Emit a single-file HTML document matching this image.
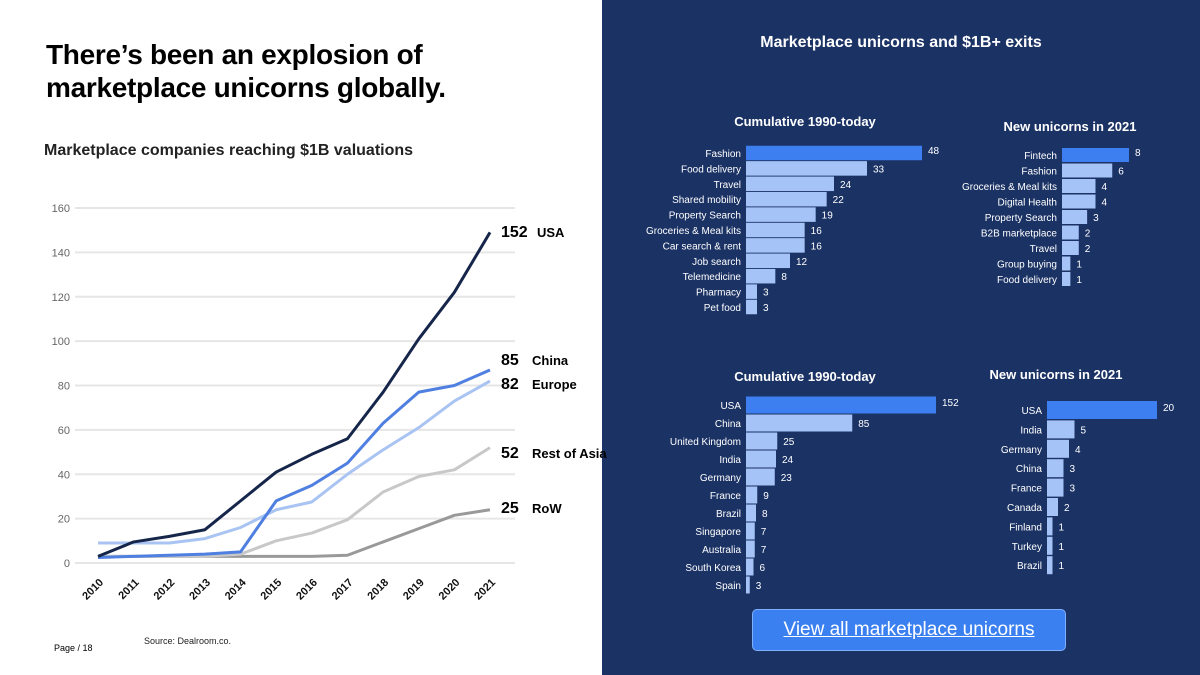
<!DOCTYPE html>
<html><head><meta charset="utf-8">
<style>
html,body{margin:0;padding:0;width:1200px;height:675px;overflow:hidden;background:#fff;font-family:"Liberation Sans",sans-serif;}
#left{position:absolute;left:0;top:0;width:602px;height:675px;background:#fff;}
#right{position:absolute;left:602px;top:0;width:598px;height:675px;background:#1b3264;}
.h1{position:absolute;left:46px;top:38px;font-size:28px;font-weight:bold;line-height:33px;color:#000;letter-spacing:-0.3px}
.sub{position:absolute;left:44px;top:142px;font-size:16px;font-weight:bold;color:#222;}
.page{position:absolute;left:54px;top:643px;font-size:9px;color:#000}
.src{position:absolute;left:144px;top:636px;font-size:9px;color:#222}
.rtitle{position:absolute;left:0;width:598px;top:34px;text-align:center;color:#fff;font-weight:bold;font-size:16px}
#btn{position:absolute;left:752px;top:609px;width:312px;height:40px;background:#3b80f0;border:1px solid #7fb0ff;border-radius:5px;color:#fff;font-size:19px;text-align:center;line-height:40px;text-decoration:underline;}
svg{position:absolute;left:0;top:0}
</style></head><body>
<div id="left">
<div class="h1">There’s been an explosion of<br>marketplace unicorns globally.</div>
<div class="sub">Marketplace companies reaching $1B valuations</div>
<div class="page">Page / 18</div>
<div class="src">Source: Dealroom.co.</div>
</div>
<div id="right">
<div class="rtitle">Marketplace unicorns and $1B+ exits</div>
</div>
<div id="btn">View all marketplace unicorns</div>
<svg id="chart" width="1200" height="675" xmlns="http://www.w3.org/2000/svg"></svg>
<script>
const years=["2010","2011","2012","2013","2014","2015","2016","2017","2018","2019","2020","2021"];
const yTicks=[0,20,40,60,80,100,120,140,160];
const usa=[3,9.5,12,15,28,41,49,56,77,101,122,149];
const china=[2.5,3,3.5,4,5,28,35,45,63,77,80,87];
const europe=[9,9,9,11,16,24,27.5,40,51,61,73,82];
const restAsia=[3,3,3,3,4,10,13.5,19.5,32,39,42,52];
const row=[3,3,3,3,3,3,3,3.5,9.5,15.5,21.5,24];
const seriesNames=["RoW","Rest of Asia","Europe","China","USA"];
const endValues=["25","52","82","85","152"];
const catCum=["Fashion","Food delivery","Travel","Shared mobility","Property Search","Groceries & Meal kits","Car search & rent","Job search","Telemedicine","Pharmacy","Pet food"];
const valCum=[48,33,24,22,19,16,16,12,8,3,3];
const catNew=["Fintech","Fashion","Groceries & Meal kits","Digital Health","Property Search","B2B marketplace","Travel","Group buying","Food delivery"];
const valNew=[8,6,4,4,3,2,2,1,1];
const ctyCum=["USA","China","United Kingdom","India","Germany","France","Brazil","Singapore","Australia","South Korea","Spain"];
const ctyCumVal=[152,85,25,24,23,9,8,7,7,6,3];
const ctyNew=["USA","India","Germany","China","France","Canada","Finland","Turkey","Brazil"];
const ctyNewVal=[20,5,4,3,3,2,1,1,1];

const svg=document.getElementById('chart');
const NS="http://www.w3.org/2000/svg";
function mk(t,a){const e=document.createElementNS(NS,t);for(const k in a)e.setAttribute(k,a[k]);svg.appendChild(e);return e;}
const xs=i=>98+i*(392/11);
const ys=v=>563-v*(355/160);
yTicks.forEach(t=>{
 const g=mk('line',{x1:75,x2:515,y1:ys(t),y2:ys(t),stroke:'#e6e6e6','stroke-width':2});
 
 
 const l=mk('text',{x:70,y:ys(t)+4,'text-anchor':'end','font-size':11,fill:'#666','font-family':'Liberation Sans'});
 l.textContent=t;
 
 
});
years.forEach((y,i)=>{
 const l=mk('text',{x:xs(i)+6,y:583,'text-anchor':'end','font-size':11,'font-weight':'bold',fill:'#111','font-family':'Liberation Sans',transform:`rotate(-45 ${xs(i)+6} 583)`});
 l.textContent=y;
 
 
});
const series=[row,restAsia,europe,china,usa];
const colors=['#999999','#c8c8c8','#a9c4f2','#4f7fe0','#16264a'];
const labY=[508,453,384,360,232];
series.forEach((s,si)=>{
 const p=mk('polyline',{points:s.map((v,i)=>xs(i)+','+ys(v)).join(' '),fill:'none',stroke:colors[si],'stroke-width':3,'stroke-linejoin':'round'});
 
 
 const v=mk('text',{x:501,y:labY[si]+5,'font-size':16,'font-weight':'bold',fill:'#000','font-family':'Liberation Sans'});
 v.textContent=endValues[si];
 
 
 const n=mk('text',{x:si==4?537:532,y:labY[si]+5,'font-size':13,'font-weight':'bold',fill:'#000','font-family':'Liberation Sans'});
 n.textContent=seriesNames[si];
 
 
});
function barChart(title,tx,ty,cats,vals,x0,scale,y0,pitch,bh,fs){
 const t=mk('text',{x:tx,y:ty,'text-anchor':'middle','font-size':13,'font-weight':'bold',fill:'#fff','font-family':'Liberation Sans'});
 t.textContent=title;
 
 
 cats.forEach((c,i)=>{
  const cy=y0+i*pitch;
  const r=mk('rect',{x:x0,y:cy-bh/2,width:vals[i]*scale,height:bh,fill:i==0?'#3d7ef0':'#a6c3f8'});
  
  
  const l=mk('text',{x:x0-5,y:cy+4,'text-anchor':'end','font-size':fs,fill:'#fff','font-family':'Liberation Sans'});
  l.textContent=c;
  
  
  const v=mk('text',{x:x0+vals[i]*scale+6,y:cy+(i==0?1:4),'font-size':fs,fill:'#fff','font-family':'Liberation Sans'});
  v.textContent=vals[i];
  
  
 });
}
barChart("Cumulative 1990-today",805,126,catCum,valCum,746,176/48,153,15.4,14.5,10);
barChart("New unicorns in 2021",1070,131,catNew,valNew,1062,67/8,155,15.5,14,10);
barChart("Cumulative 1990-today",805,381,ctyCum,ctyCumVal,746,190/152,405,18,17,10);
barChart("New unicorns in 2021",1056,379,ctyNew,ctyNewVal,1047,5.5,410,19.4,18,10);
</script>
</body></html>
